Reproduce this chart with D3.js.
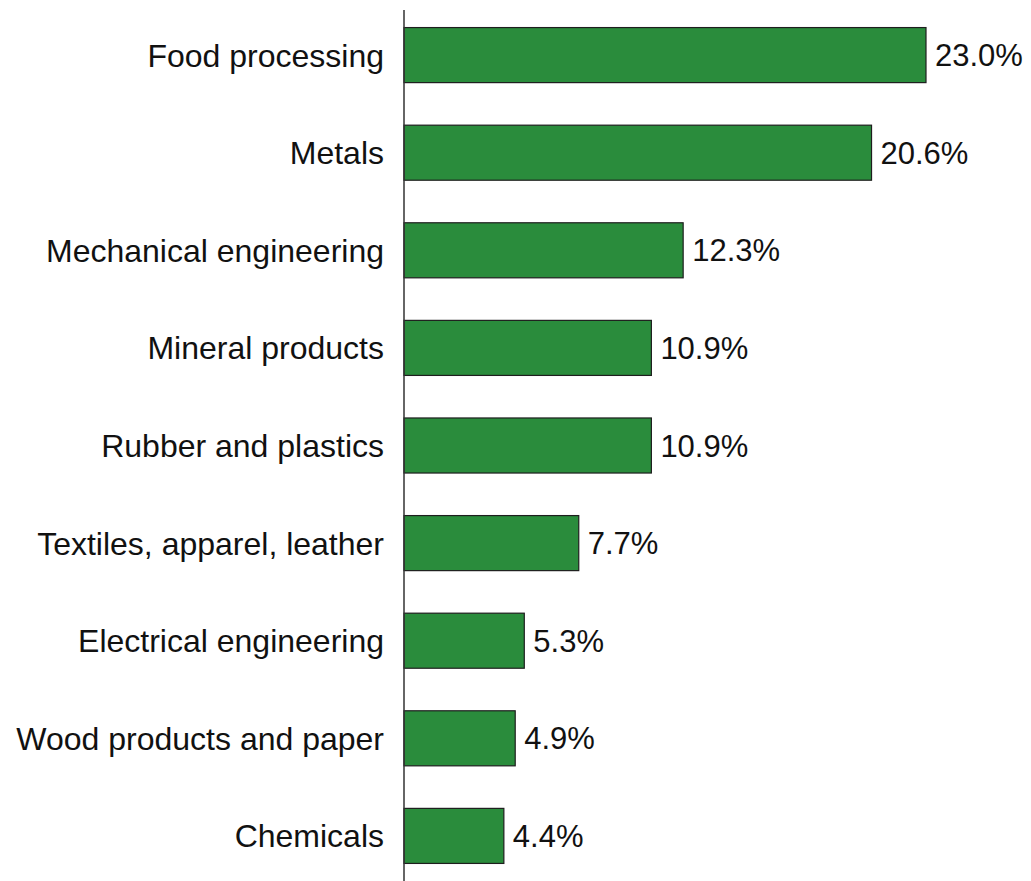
<!DOCTYPE html>
<html>
<head>
<meta charset="utf-8">
<script src="https://cdn.jsdelivr.net/npm/d3@7"></script>
<style>
  body { margin: 0; background: #fff; }
  text { font-family: "Liberation Sans", Arial, sans-serif; fill: #111; }
</style>
</head>
<body>
<div class="container"></div>
<script>
// sectors and their share
var sectors = ["Food processing", "Metals", "Mechanical engineering", "Mineral products",
    "Rubber and plastics", "Textiles, apparel, leather", "Electrical engineering",
    "Wood products and paper", "Chemicals"];
var shares = [23.0, 20.6, 12.3, 10.9, 10.9, 7.7, 5.3, 4.9, 4.4];

var width = 1031, height = 881;
var axisX = 404;

var svg = d3.select(".container")
    .append("svg")
    .attr("width", width)
    .attr("height", height);

var x = d3.scaleLinear()
    .domain([0, 23])
    .range([axisX, 926]);

var y = d3.scaleBand()
    .domain(sectors)
    .range([10, 881])
    .paddingInner(0.436)
    .paddingOuter(0.18);

var rows = sectors.map(function(s, i) { return { name: s, value: shares[i] }; });

svg.selectAll("rect.bar")
    .data(rows)
    .enter()
    .append("rect")
    .attr("class", "bar")
    .attr("x", x(0))
    .attr("y", function(d) { return y(d.name); })
    .attr("width", function(d) { return x(d.value) - x(0); })
    .attr("height", y.bandwidth())
    .attr("fill", "#2a8c3c")
    .attr("stroke", "#1e1e1e")
    .attr("stroke-width", 1.2);

// category labels on the left
svg.selectAll("text.cat")
    .data(rows)
    .enter()
    .append("text")
    .attr("class", "cat")
    .attr("x", axisX - 20)
    .attr("y", function(d) { return y(d.name) + y.bandwidth() / 2; })
    .attr("dy", "0.36em")
    .attr("text-anchor", "end")
    .style("font-size", "32px")
    .text(function(d) { return d.name; });

// value labels
svg.selectAll("text.val")
    .data(rows)
    .enter()
    .append("text")
    .attr("class", "val")
    .attr("x", function(d) { return x(d.value) + 9; })
    .attr("y", function(d) { return y(d.name) + y.bandwidth() / 2; })
    .attr("dy", "0.36em")
    .style("font-size", "31px")
    .text(function(d) { return d.value.toFixed(1) + "%"; });

// vertical axis line
svg.append("line")
    .attr("x1", axisX).attr("x2", axisX)
    .attr("y1", 10).attr("y2", height)
    .attr("stroke", "#333")
    .attr("stroke-width", 1.5);
</script>
</body>
</html>
